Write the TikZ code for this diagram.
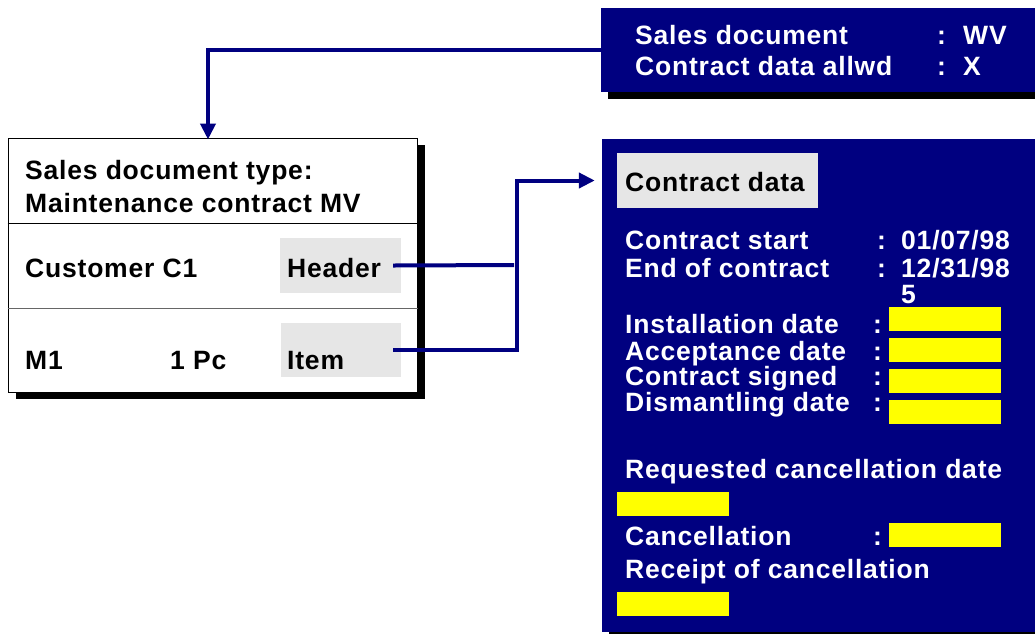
\documentclass[tikz,border=0pt]{standalone}
\usepackage{fontspec}
\newfontfamily\lbl[LetterSpace=3]{Liberation Sans Bold}
\usetikzlibrary{arrows.meta}
\definecolor{navy}{RGB}{0,0,128}
\definecolor{lgray}{RGB}{230,230,230}
\definecolor{yel}{RGB}{255,255,0}
\tikzset{
  txt/.style={anchor=base west, inner sep=0pt, font=\lbl\fontsize{26.5}{30}\selectfont},
  wtxt/.style={txt, text=white},
  navybox/.style={rectangle, inner sep=0pt, fill=navy},
  graybox/.style={rectangle, inner sep=0pt, fill=lgray},
  yelbox/.style={rectangle, inner sep=0pt, fill=yel, minimum width=112pt, minimum height=24pt},
  shadow/.style={fill=black},
  conn/.style={draw=navy, line width=4pt},
  tip/.style={-{Triangle[length=16pt,width=15pt]}}
}
\begin{document}
\begin{tikzpicture}[x=1pt,y=-1pt]
\useasboundingbox (0,0) rectangle (1035,633);
% top right box
\fill[shadow] (608,15) rectangle (1045,99);
\node[navybox, minimum width=444pt, minimum height=84pt] (topbox) at (823,50) {};
\node[wtxt] (t1) at (635,44) {Sales document};
\node[wtxt] (t1c) at (937,44) {:};
\node[wtxt] (t1v) at (963,44) {WV};
\node[wtxt] (t2) at (635,75) {Contract data allwd};
\node[wtxt] (t2c) at (937,75) {:};
\node[wtxt] (t2v) at (963,75) {X};
% left box
\fill[shadow] (16,145) rectangle (425,399);
\node[rectangle, inner sep=0pt, draw=black, line width=1pt, fill=white, minimum width=409pt, minimum height=254pt] (lbox) at (212.5,265) {};
\draw[line width=1pt] (lbox.west |- 0,223) -- (lbox.east |- 0,223);
\draw[line width=1pt, draw=black!60] (lbox.west |- 0,308) -- (lbox.east |- 0,308);
\node[txt] (l1) at (25,179) {Sales document type:};
\node[txt] (l2) at (25,212) {Maintenance contract MV};
\node[graybox, minimum width=121pt, minimum height=55pt] (hdr) at (340.5,265.5) {};
\node[graybox, minimum width=120pt, minimum height=54pt] (itm) at (341,350) {};
\node[txt] (cust) at (25,277) {Customer C1};
\node[txt] (hdrt) at (287,277) {Header};
\node[txt] (m1) at (25,369) {M1};
\node[txt] (pc) at (170,369) {1 Pc};
\node[txt] (itmt) at (287,369) {Item};
% contract box
\fill[shadow] (609,146) rectangle (1045,640);
\node[navybox, minimum width=443pt, minimum height=493pt] (cbox) at (823.5,385.5) {};
\node[graybox, minimum width=201pt, minimum height=55pt] (cdg) at (717.5,180.5) {};
\node[txt] (cdt) at (625,191) {Contract data};
\node[wtxt] (r1) at (625,249) {Contract start};
\node[wtxt] (r1c) at (877,249) {:};
\node[wtxt] (r1v) at (901,249) {01/07/98};
\node[wtxt] (r2) at (625,277) {End of contract};
\node[wtxt] (r2c) at (877,277) {:};
\node[wtxt] (r2v) at (901,277) {12/31/98};
\node[wtxt] (r2w) at (901,303) {5};
\node[wtxt] (r3) at (625,333) {Installation date};
\node[wtxt] (r3c) at (873,333) {:};
\node[yelbox] (y3) at (945,319) {};
\node[wtxt] (r4) at (625,360) {Acceptance date};
\node[wtxt] (r4c) at (873,360) {:};
\node[yelbox] (y4) at (945,350) {};
\node[wtxt] (r5) at (625,385) {Contract signed};
\node[wtxt] (r5c) at (873,385) {:};
\node[yelbox] (y5) at (945,381) {};
\node[wtxt] (r6) at (625,411) {Dismantling date};
\node[wtxt] (r6c) at (873,411) {:};
\node[yelbox] (y6) at (945,412) {};
\node[wtxt] (r7) at (625,478) {Requested cancellation date};
\node[yelbox] (y7) at (673,504) {};
\node[wtxt] (r8) at (625,545) {Cancellation};
\node[wtxt] (r8c) at (873,545) {:};
\node[yelbox] (y8) at (945,535) {};
\node[wtxt] (r9) at (625,578) {Receipt of cancellation};
\node[yelbox] (y9) at (673,604) {};
% connectors
\coordinate (hend) at (514,265);
\coordinate (ibend) at (517,350);
\draw[conn, tip] (topbox.west) -| ([xshift=-4.5pt,yshift=-2pt]lbox.north);
\draw[conn] ([xshift=-8pt]hdr.east) -- (hend);
\draw[conn, tip] ([xshift=-8pt]itm.east) -- (ibend) |- ([xshift=-7pt]cbox.west |- cdg.west);
\end{tikzpicture}
\end{document}
